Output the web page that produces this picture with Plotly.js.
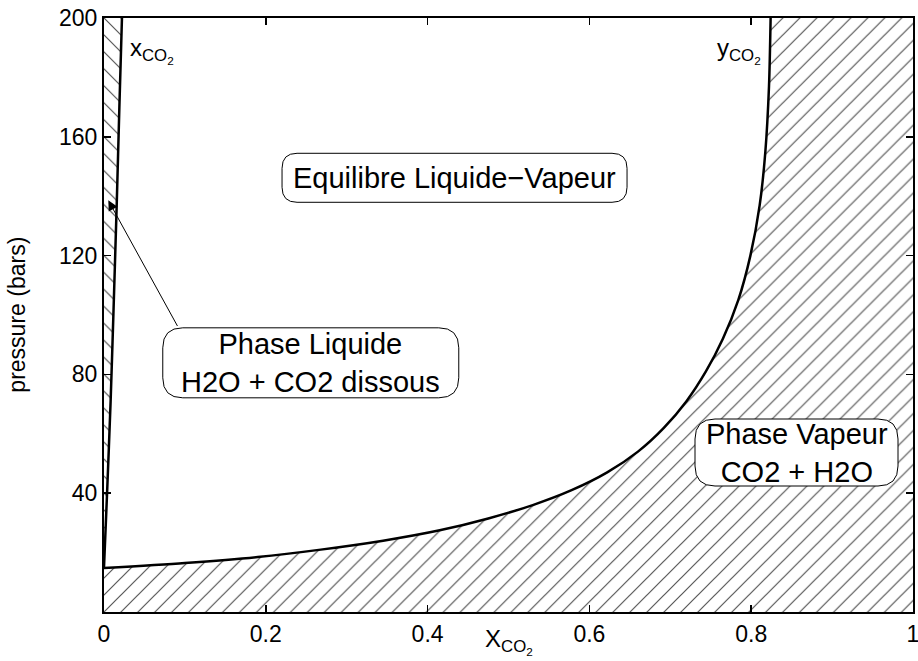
<!DOCTYPE html>
<html>
<head>
<meta charset="utf-8">
<script src="https://cdn.plot.ly/plotly-3.0.1.min.js"></script>
<style>html,body{margin:0;padding:0;background:#fff;}#chart{width:918px;height:661px;}</style>
</head>
<body>
<div id="chart"></div>
<script>
// Liquid branch x_CO2 (mole fraction) vs pressure (bars)
const liqPressure = [15, 40, 71, 100, 137, 170, 200];
const liqX = [0, 0.0038, 0.0082, 0.0116, 0.0157, 0.0190, 0.0222];
// Vapour branch y_CO2 vs pressure (bars)
const vapX = [0, 0.1, 0.19, 0.268, 0.345, 0.415, 0.475, 0.53, 0.578, 0.622, 0.66, 0.692, 0.72, 0.744, 0.765, 0.784, 0.799, 0.8105, 0.8175, 0.822, 0.824];
const vapPressure = [14.8, 16.5, 18.5, 21, 24, 27.5, 31.5, 36, 41, 47, 54, 62, 71, 81, 92, 105, 120, 137, 155, 177, 200];
// Axis ticks
const xTickVals = [0, 0.2, 0.4, 0.6, 0.8, 1];
const xTickText = ['0', '0.2', '0.4', '0.6', '0.8', '1'];
const yTickVals = [40, 80, 120, 160, 200];
const yTickText = ['40', '80', '120', '160', '200'];
// Text labels
const boxTexts = ['Equilibre Liquide\u2212Vapeur', 'Phase Liquide<br>H2O + CO2 dissous', 'Phase Vapeur<br>CO2 + H2O'];
const boxX = [0.4333, 0.2556, 0.856];
const boxY = [146.2, 83.9, 53.7];

const FONT = 'Liberation Sans, Arial, Helvetica, sans-serif';

const traces = [
  { // liquid region hatch
    x: liqX.concat([0]), y: liqPressure.concat([200]),
    mode: 'lines', fill: 'toself', line: {width: 0},
    fillcolor: 'white',
    fillpattern: {shape: '\\', fgcolor: '#555', bgcolor: 'white', size: 12, solidity: 0.1},
    hoverinfo: 'skip'
  },
  { // vapour region hatch
    x: vapX.concat([1, 1, 0]), y: vapPressure.concat([200, 0, 0]),
    mode: 'lines', fill: 'toself', line: {width: 0},
    fillcolor: 'white',
    fillpattern: {shape: '/', fgcolor: '#555', bgcolor: 'white', size: 12, solidity: 0.1},
    hoverinfo: 'skip'
  },
  {
    x: liqX, y: liqPressure, mode: 'lines',
    line: {color: 'black', width: 2.5, shape: 'spline', smoothing: 0.6}
  },
  {
    x: vapX, y: vapPressure, mode: 'lines',
    line: {color: 'black', width: 2.5, shape: 'spline', smoothing: 0.8}
  }
];

function roundRect(w, h, r) {
  const a = w / 2, b = h / 2;
  return 'M' + (-a + r) + ',' + (-b) + ' H' + (a - r) + ' Q' + a + ',' + (-b) + ' ' + a + ',' + (-b + r) +
    ' V' + (b - r) + ' Q' + a + ',' + b + ' ' + (a - r) + ',' + b +
    ' H' + (-a + r) + ' Q' + (-a) + ',' + b + ' ' + (-a) + ',' + (b - r) +
    ' V' + (-b + r) + ' Q' + (-a) + ',' + (-b) + ' ' + (-a + r) + ',' + (-b) + ' Z';
}
const boxSizes = [[345, 49, 15], [296, 70, 20], [203, 67, 20]];

const shapes = boxSizes.map((s, i) => ({
  type: 'path', xref: 'x', yref: 'y', xsizemode: 'pixel', ysizemode: 'pixel',
  xanchor: boxX[i], yanchor: boxY[i], path: roundRect(s[0], s[1], s[2]),
  line: {color: 'black', width: 1}, fillcolor: 'white', layer: 'above'
}));

const annotations = boxTexts.map((t, i) => ({
  x: boxX[i], y: boxY[i], xref: 'x', yref: 'y', text: t, showarrow: false,
  font: {family: FONT, size: 29, color: 'black'}, align: 'center'
}));

annotations.push({
  x: 0.0053, y: 138.6, xref: 'x', yref: 'y', ax: 0.0918, ay: 95.8, axref: 'x', ayref: 'y',
  text: '', showarrow: true, arrowhead: 2, arrowsize: 2, arrowwidth: 1, arrowcolor: 'black'
});
annotations.push({
  x: 0.03, y: 189, xref: 'x', yref: 'y', xanchor: 'left', yanchor: 'middle',
  text: 'x<sub>CO<sub>2</sub></sub>', showarrow: false, font: {family: FONT, size: 24, color: 'black'}
});
annotations.push({
  x: 0.814, y: 189, xref: 'x', yref: 'y', xanchor: 'right', yanchor: 'middle',
  text: 'y<sub>CO<sub>2</sub></sub>', showarrow: false, font: {family: FONT, size: 24, color: 'black'}
});
annotations.push({
  x: 0.5, y: -0.05, xref: 'paper', yref: 'paper', xanchor: 'center', yanchor: 'middle',
  text: 'X<sub>CO<sub>2</sub></sub>', showarrow: false, font: {family: FONT, size: 24, color: 'black'}
});
annotations.push({
  x: -0.108, y: 0.5, xref: 'paper', yref: 'paper', xanchor: 'center', yanchor: 'middle',
  text: 'pressure (bars)', textangle: -90, showarrow: false, font: {family: FONT, size: 23, color: 'black'}
});

const axisCommon = {
  ticks: 'inside', ticklen: 7, tickwidth: 1.5, tickcolor: 'black',
  showline: true, linewidth: 2, linecolor: 'black', mirror: 'ticks',
  showgrid: false, zeroline: false, ticklabeloverflow: 'allow',
  tickfont: {family: FONT, size: 23, color: 'black'}
};

const layout = {
  width: 918, height: 661,
  margin: {l: 104, r: 5, t: 18, b: 49, pad: 0},
  paper_bgcolor: 'white', plot_bgcolor: 'white',
  showlegend: false,
  font: {family: FONT, color: 'black'},
  xaxis: Object.assign({}, axisCommon, {range: [0, 1], tickmode: 'array', tickvals: xTickVals, ticktext: xTickText}),
  yaxis: Object.assign({}, axisCommon, {range: [0, 200], tickmode: 'array', tickvals: yTickVals, ticktext: yTickText}),
  shapes: shapes,
  annotations: annotations
};

Plotly.newPlot('chart', traces, layout, {staticPlot: true, displayModeBar: false});
</script>
</body>
</html>
